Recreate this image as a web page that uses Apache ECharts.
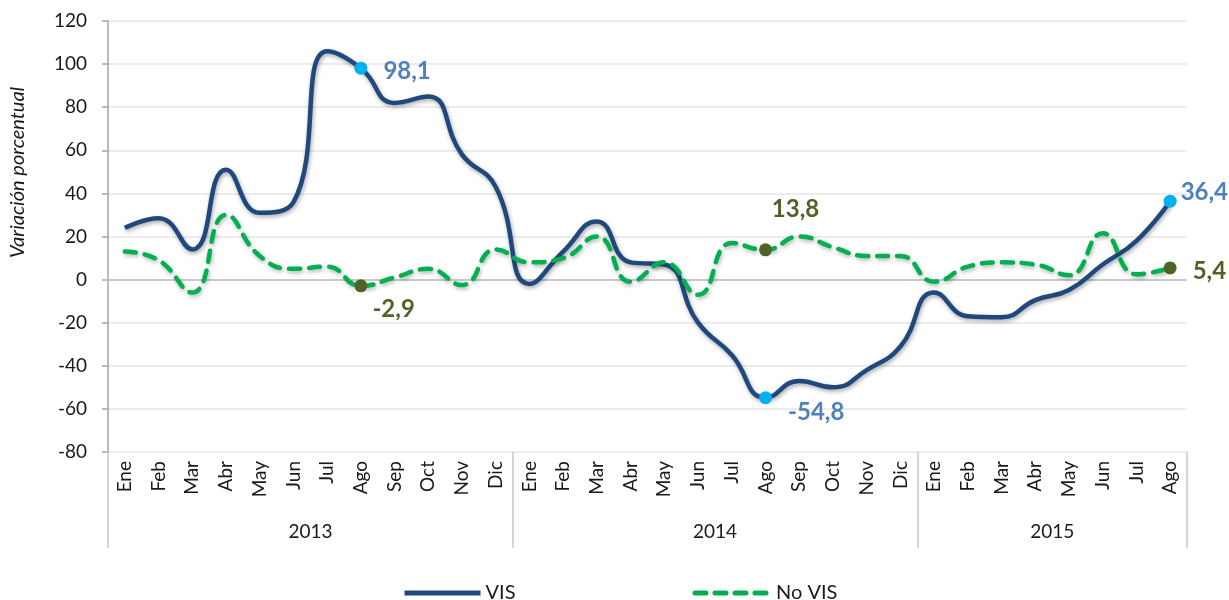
<!DOCTYPE html>
<html>
<head>
<meta charset="utf-8">
<title>VIS / No VIS</title>
<script src="https://cdn.jsdelivr.net/npm/echarts@6/dist/echarts.min.js"></script>
<style>
  html, body { margin: 0; padding: 0; background: #fff; }
  #main { width: 1229px; height: 600px; }
</style>
</head>
<body>
<div id="main"></div>
<script>
// months Ene 2013 .. Ago 2015
const months = [
  "Ene", "Feb", "Mar", "Abr", "May", "Jun", "Jul", "Ago", "Sep", "Oct", "Nov", "Dic",
  "Ene", "Feb", "Mar", "Abr", "May", "Jun", "Jul", "Ago", "Sep", "Oct", "Nov", "Dic",
  "Ene", "Feb", "Mar", "Abr", "May", "Jun", "Jul", "Ago"
];
const years = ["2013", "2014", "2015"];
const monthsPerYear = [12, 12, 8];

const vis = [
  24, 28.5, 14, 51, 31, 36, 106, 98.1, 82, 85, 58, 43,
  -2, 13, 27, 8, 7, -20, -35, -54.8, -47, -50, -42, -31,
  -6, -17, -17.5, -9.5, -4.8, 7, 18, 36.4
];
const noVis = [
  13, 9, -6, 30, 11, 5, 6, -2.9, 1, 5, -2.5, 14,
  8, 10, 20, -1, 8, -7, 17, 13.8, 20, 15, 11, 11,
  -1, 6, 8, 7, 2, 21.5, 2.5, 5.4
];

// points that carry a value label
const visMarked = [7, 19, 31];
const noVisMarked = [7, 19, 31];

const yMin = -80, yMax = 120, yStep = 20;

const FONT = "Lato";

// one year label per block, placed at the block's middle month
const yearOfMonth = [];
const yearLabelIdx = [];
const yearEdgeIdx = [0];
let start = 0;
monthsPerYear.forEach((n, k) => {
  for (let i = 0; i < n; i++) yearOfMonth.push(years[k]);
  yearLabelIdx.push(start + Math.floor(n / 2) - 1);
  start += n;
  yearEdgeIdx.push(start);
});

const fmt = (v) => String(v).replace(".", ",");

const visLabelPos = {
  7: { position: "right", distance: 16, offset: [0, 3] },
  19: { position: "right", distance: 16, offset: [0, 15] },
  31: { position: "right", distance: 4, offset: [0, -9] }
};
const noVisLabelPos = {
  7: { position: "right", distance: 5, offset: [0, 23] },
  19: { position: "top", distance: 5, offset: [30, -17] },
  31: { position: "right", distance: 16, offset: [0, 3] }
};

function buildItems(values, marked, dotColor, textColor, posMap) {
  return values.map((v, i) => {
    if (marked.indexOf(i) < 0) return v;
    return {
      value: v,
      symbol: "circle",
      symbolSize: 13,
      itemStyle: { color: dotColor, borderWidth: 0 },
      label: Object.assign({
        show: true,
        formatter: (p) => fmt(p.value),
        color: textColor,
        fontFamily: FONT,
        fontSize: 24,
        fontWeight: "bold"
      }, posMap[i])
    };
  });
}

const chart = echarts.init(document.getElementById("main"));

const option = {
  animation: false,
  backgroundColor: "#fff",
  grid: { left: 107, right: 42, top: 21, bottom: 148, containLabel: false },
  legend: {
    left: 397,
    top: 578,
    itemWidth: 76,
    itemHeight: 14,
    itemGap: 177,
    itemStyle: { opacity: 0 },
    lineStyle: { width: 5 },
    textStyle: { fontFamily: FONT, fontSize: 20, color: "#1a1a1a" },
    data: ["VIS", "No VIS"]
  },
  xAxis: [
    {
      type: "category",
      data: months,
      boundaryGap: true,
      axisLine: { show: false },
      axisTick: { show: false },
      axisLabel: {
        interval: 0,
        rotate: 90,
        margin: 9,
        fontFamily: FONT,
        fontSize: 19,
        color: "#1a1a1a"
      }
    },
    {
      type: "category",
      data: yearOfMonth,
      boundaryGap: true,
      position: "bottom",
      axisLine: { show: false },
      axisTick: {
        show: true,
        length: 96,
        interval: (i) => yearEdgeIdx.indexOf(i) >= 0,
        lineStyle: { color: "#c8c8c8", width: 1.5 }
      },
      axisLabel: {
        interval: (i) => yearLabelIdx.indexOf(i) >= 0,
        margin: 70,
        padding: [0, 0, 0, 34],
        fontFamily: FONT,
        fontSize: 19,
        color: "#1a1a1a"
      },
      splitLine: { show: false }
    }
  ],
  yAxis: {
    type: "value",
    min: yMin,
    max: yMax,
    interval: yStep,
    name: "Variación porcentual",
    nameLocation: "middle",
    nameGap: 80,
    nameTextStyle: {
      fontFamily: FONT,
      fontStyle: "italic",
      fontSize: 20,
      color: "#1a1a1a",
      padding: [0, 0, 0, 128]
    },
    axisLine: { show: true, lineStyle: { color: "#a6a6a6", width: 1.5 } },
    axisTick: { show: true, length: 6, lineStyle: { color: "#a6a6a6", width: 1.5 } },
    axisLabel: { margin: 21, fontFamily: FONT, fontSize: 19, color: "#1a1a1a" },
    splitLine: { lineStyle: { color: "#e6e6e6", width: 1.5 } }
  },
  series: [
    {
      name: "VIS",
      type: "line",
      smooth: 0.5,
      symbol: "none",
      showSymbol: true,
      showAllSymbol: true,
      data: buildItems(vis, visMarked, "#00b0f0", "#4f81bd", visLabelPos),
      lineStyle: {
        color: "#1f497d",
        width: 4.5,
        shadowColor: "rgba(0,0,0,0.35)",
        shadowBlur: 4,
        shadowOffsetX: 1,
        shadowOffsetY: 2
      },
      itemStyle: { color: "#1f497d" },
      markLine: {
        silent: true,
        symbol: "none",
        label: { show: false },
        lineStyle: { color: "#bfbfbf", width: 1.5, type: "solid" },
        data: [{ yAxis: 0 }],
        z: 1
      },
      z: 3
    },
    {
      name: "No VIS",
      type: "line",
      smooth: 0.5,
      symbol: "none",
      showSymbol: true,
      showAllSymbol: true,
      data: buildItems(noVis, noVisMarked, "#4f6228", "#4f6228", noVisLabelPos),
      lineStyle: {
        color: "#00b050",
        width: 4.5,
        type: [11, 9],
        cap: "round",
        shadowColor: "rgba(0,0,0,0.3)",
        shadowBlur: 4,
        shadowOffsetX: 1,
        shadowOffsetY: 2
      },
      itemStyle: { color: "#00b050" },
      z: 4
    }
  ]
};

chart.setOption(option);
</script>
</body>
</html>
